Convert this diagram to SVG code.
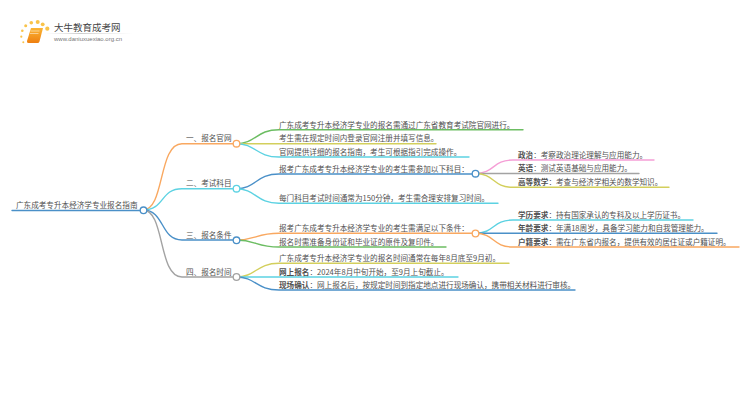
<svg xmlns="http://www.w3.org/2000/svg" width="750" height="410" viewBox="0 0 750 410">
<defs><linearGradient id="bk" x1="0" y1="0" x2="0" y2="1"><stop offset="0" stop-color="#fbb534"/><stop offset="1" stop-color="#ee7f10"/></linearGradient>
<linearGradient id="rule" x1="0" y1="0" x2="1" y2="0"><stop offset="0" stop-color="#ddd" stop-opacity="0"/><stop offset=".4" stop-color="#ccc"/><stop offset="1" stop-color="#ddd" stop-opacity="0"/></linearGradient></defs>
<style>
text{font-family:"Noto Sans CJK SC","Liberation Sans",sans-serif;font-size:7.6px;fill:#505050}
.b{font-weight:700}
.l{fill:none;stroke-width:1.4;stroke-linecap:round}
.n{fill:#fff;stroke-width:1.3}
</style>
<rect width="750" height="410" fill="#fff"/>
<g id="logo">
<g fill="#f9c349"><circle cx="37.700" cy="22" r="2"/><circle cx="31.300" cy="22.700" r="1.800"/><circle cx="42.700" cy="24.300" r="1.900"/><circle cx="47.300" cy="28.700" r="2.100"/><circle cx="25.700" cy="25.700" r="1.500"/><circle cx="22.300" cy="30.700" r="1.300"/><circle cx="21.300" cy="36.700" r="1.100"/><circle cx="23.300" cy="42.300" r="1"/></g>
<path d="M31 28h12l-3.500 13.500q-.5 1.500-2 1.500H28.500q-2 0-1.500-2z" fill="url(#bk)"/>
<path d="M30.500 31h9M30 33.500h8.500" stroke="#fff" stroke-width=".7" fill="none" opacity=".7"/>
<text x="54" y="30.800" style="font-size:9.500px;fill:#444">大牛教育成考网</text>
<rect x="45" y="33" width="88" height="1" fill="url(#rule)"/>
<text x="54" y="41" style="font-size:6px;fill:#777;font-family:'Liberation Sans',sans-serif">www.daniuxuexiao.org.cn</text>
</g>
<g id="connectors">
<path class="l" stroke="#4a90c8" d="M12 210.500H143"/>
<path class="l" stroke="#f9a860" d="M143 210C165 210 158 143.700 182 143.700H236"/>
<path class="l" stroke="#5cd2e2" d="M143 210C165 210 160 188.700 182 188.700H236"/>
<path class="l" stroke="#4a90c8" d="M143 210C165 210 160 240 182 240H236"/>
<path class="l" stroke="#a3a3a3" d="M143 210C165 210 158 277 182 277H236"/>
<path class="l" stroke="#6cbd62" d="M236 143.700C256 143.700 256 129.700 279 129.700H523"/>
<path class="l" stroke="#d3cf5c" d="M236 143.700H436"/>
<path class="l" stroke="#5cd2e2" d="M236 143.700C256 143.700 256 157 279 157H469"/>
<path class="l" stroke="#4a90c8" d="M236 188.700C256 188.700 256 174 279 174H475"/>
<path class="l" stroke="#5cd2e2" d="M236 188.700C256 188.700 256 203.300 279 203.300H498"/>
<path class="l" stroke="#f9a860" d="M236 240C256 240 256 233.300 279 233.300H475"/>
<path class="l" stroke="#6cbd62" d="M236 240C256 240 256 247 279 247H446"/>
<path class="l" stroke="#d3cf5c" d="M236 277C256 277 256 263.300 279 263.300H509"/>
<path class="l" stroke="#5cd2e2" d="M236 277H458"/>
<path class="l" stroke="#4a90c8" d="M236 277C256 277 256 290 279 290H575"/>
<path class="l" stroke="#f59fd6" d="M475 173.500C495 173.500 492 160 513 160H654"/>
<path class="l" stroke="#a3a3a3" d="M475 173.500H639"/>
<path class="l" stroke="#d3cf5c" d="M475 173.500C495 173.500 492 187.300 513 187.300H669"/>
<path class="l" stroke="#5cd2e2" d="M475 233.300C495 233.300 492 220 513 220H693"/>
<path class="l" stroke="#4a90c8" d="M475 233.300H717"/>
<path class="l" stroke="#f9a860" d="M475 233.300C495 233.300 492 247 513 247H739"/>
</g>
<g id="root"><text x="16" y="207.500">广东成考专升本经济学专业报名指南</text><circle class="n" stroke="#4a90c8" cx="143.500" cy="210.300" r="3.300"/></g>
<g id="b1"><text x="186" y="141">一、报名官网</text><circle class="n" stroke="#f9a860" cx="236.500" cy="143.700" r="3.300"/></g>
<g id="b2"><text x="186" y="186">二、考试科目</text><circle class="n" stroke="#5cd2e2" cx="236.500" cy="188.700" r="3.300"/></g>
<g id="b3"><text x="186" y="237.500">三、报名条件</text><circle class="n" stroke="#4a90c8" cx="236.500" cy="240.300" r="3.300"/></g>
<g id="b4"><text x="186" y="274.500">四、报名时间</text><circle class="n" stroke="#a3a3a3" cx="236.500" cy="277" r="3.300"/></g>
<g id="n11"><text x="279" y="127.500">广东成考专升本经济学专业的报名需通过广东省教育考试院官网进行。</text></g>
<g id="n12"><text x="279" y="141">考生需在规定时间内登录官网注册并填写信息。</text></g>
<g id="n13"><text x="279" y="154.500">官网提供详细的报名指南，考生可根据指引完成操作。</text></g>
<g id="n21"><text x="279" y="171.500">报考广东成考专升本经济学专业的考生需参加以下科目：</text><circle class="n" stroke="#4a90c8" cx="475.500" cy="173.700" r="3.300"/></g>
<g id="n22"><text x="279" y="200.500">每门科目考试时间通常为150分钟，考生需合理安排复习时间。</text></g>
<g id="n31"><text x="279" y="231">报考广东成考专升本经济学专业的考生需满足以下条件：</text><circle class="n" stroke="#f9a860" cx="475.500" cy="233.500" r="3.300"/></g>
<g id="n32"><text x="279" y="244.500">报名时需准备身份证和毕业证的原件及复印件。</text></g>
<g id="n41"><text x="279" y="261">广东成考专升本经济学专业的报名时间通常在每年8月底至9月初。</text></g>
<g id="n42"><text x="279" y="274.500"><tspan class="b">网上报名</tspan>：2024年8月中旬开始，至9月上旬截止。</text></g>
<g id="n43"><text x="279" y="287.500"><tspan class="b">现场确认</tspan>：网上报名后，按规定时间到指定地点进行现场确认，携带相关材料进行审核。</text></g>
<g id="n211"><text x="518" y="157.500"><tspan class="b">政治</tspan>：考察政治理论理解与应用能力。</text></g>
<g id="n212"><text x="518" y="171"><tspan class="b">英语</tspan>：测试英语基础与应用能力。</text></g>
<g id="n213"><text x="518" y="184.500"><tspan class="b">高等数学</tspan>：考查与经济学相关的数学知识。</text></g>
<g id="n311"><text x="518" y="217.500"><tspan class="b">学历要求</tspan>：持有国家承认的专科及以上学历证书。</text></g>
<g id="n312"><text x="518" y="231"><tspan class="b">年龄要求</tspan>：年满18周岁，具备学习能力和自我管理能力。</text></g>
<g id="n313"><text x="518" y="244.500"><tspan class="b">户籍要求</tspan>：需在广东省内报名，提供有效的居住证或户籍证明。</text></g>
</svg>
